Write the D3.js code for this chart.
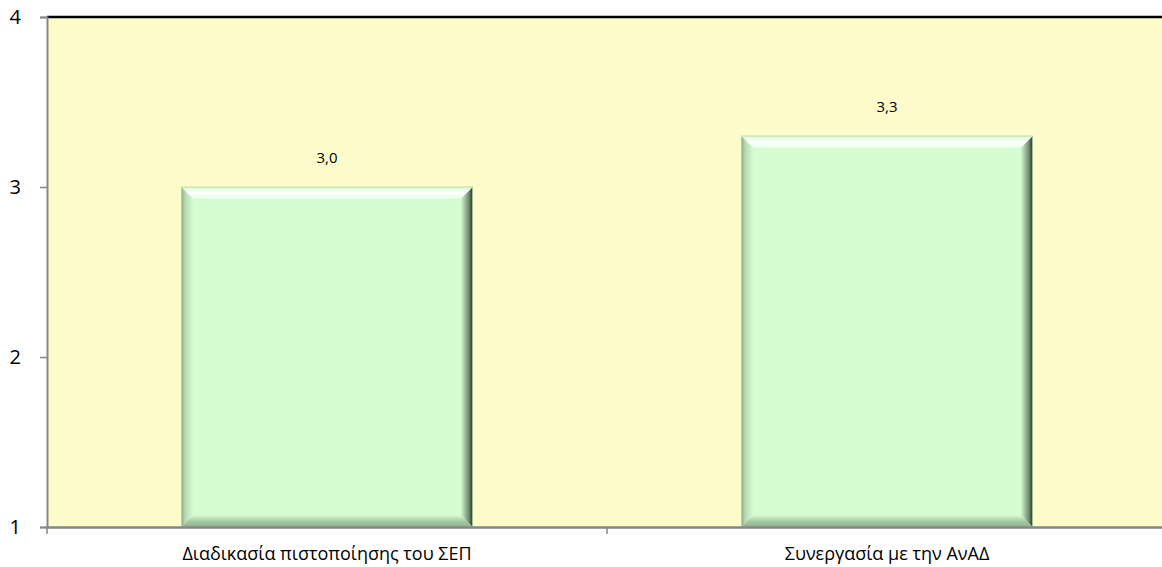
<!DOCTYPE html>
<html>
<head>
<meta charset="utf-8">
<script src="https://cdn.jsdelivr.net/npm/d3@7"></script>
<style>
  body { margin: 0; background: #fff; }
  text { font-family: "Open Sans", "Noto Sans", sans-serif; }
</style>
</head>
<body>
<div id="chart"></div>
<script>

// chart values
const categories = ['Διαδικασία πιστοποίησης του ΣΕΠ', 'Συνεργασία με την ΑνΑΔ'];
const values = [3.0, 3.3];
const yTicks = [1, 2, 3, 4];

const W = 1162, H = 567;
const margin = {top: 17, right: -5, bottom: 40, left: 47};
const width = W - margin.left - margin.right;
const height = H - margin.top - margin.bottom;

const svg = d3.select('#chart')
    .append('svg')
    .attr('width', W)
    .attr('height', H);

// gradients for the bevel look
const defs = svg.append('defs');
const grad = (id, x1, y1, x2, y2, stops) => {
    const g = defs.append('linearGradient').attr('id', id)
        .attr('x1', x1).attr('y1', y1).attr('x2', x2).attr('y2', y2);
    stops.forEach(s => g.append('stop').attr('offset', s[0]).attr('stop-color', s[1]));
};
grad('bevLeft', 0, 0, 1, 0, [[0, '#8fae8c'], [0.35, '#b9dcb5'], [1, '#d6fcd2']]);
grad('bevRight', 1, 0, 0, 0, [[0, '#26332a'], [0.3, '#6f8a6c'], [1, '#d6fcd2']]);
grad('bevTop', 0, 0, 0, 1, [[0, '#d6fcd2'], [0.5, '#ffffff'], [1, '#e6fde3']]);
grad('bevBottom', 0, 1, 0, 0, [[0, '#8fb08c'], [0.5, '#a8cca5'], [1, '#d6fcd2']]);

const g = svg.append('g')
    .attr('transform', `translate(${margin.left}, ${margin.top})`);

const x = d3.scaleBand()
    .domain(categories)
    .range([0, width])
    .paddingInner(0.48)
    .paddingOuter(0.24);

const y = d3.scaleLinear()
    .domain([1, 4])
    .range([height, 0]);

// plot background
g.append('rect')
    .attr('width', width)
    .attr('height', height)
    .attr('fill', '#fffccc');

// bars
const bev = 12;
const bars = g.selectAll('.bar')
    .data(categories.map((c, i) => ({cat: c, val: values[i]})))
    .enter()
    .append('g')
    .attr('class', 'bar');

bars.each(function (d) {
    const b = d3.select(this);
    const x0 = x(d.cat), x1 = x0 + x.bandwidth();
    const y0 = y(d.val), y1 = y(1);
    b.append('rect')
        .attr('x', x0).attr('y', y0)
        .attr('width', x1 - x0).attr('height', y1 - y0)
        .attr('fill', '#d6fcd2');
    const poly = (pts, fill) => b.append('polygon')
        .attr('points', pts.map(p => p.join(',')).join(' '))
        .attr('fill', fill);
    poly([[x0, y0], [x0 + bev, y0 + bev], [x0 + bev, y1 - bev], [x0, y1]], 'url(#bevLeft)');
    poly([[x1, y0], [x1 - bev, y0 + bev], [x1 - bev, y1 - bev], [x1, y1]], 'url(#bevRight)');
    poly([[x0, y0], [x1, y0], [x1 - bev, y0 + bev], [x0 + bev, y0 + bev]], 'url(#bevTop)');
    poly([[x0, y1], [x1, y1], [x1 - bev, y1 - bev], [x0 + bev, y1 - bev]], 'url(#bevBottom)');
    b.append('rect')
        .attr('x', x0).attr('y', y0)
        .attr('width', x1 - x0).attr('height', y1 - y0)
        .attr('fill', 'none')
        .attr('stroke', '#b5cfa8')
        .attr('stroke-width', 0.8);
});

// data labels
bars.append('text')
    .attr('x', d => x(d.cat) + x.bandwidth() / 2)
    .attr('y', d => y(d.val) - 24)
    .attr('text-anchor', 'middle')
    .attr('font-size', 15)
    .attr('fill', '#000')
    .text(d => d3.format('.1f')(d.val).replace('.', ','));

// top border
g.append('line')
    .attr('x1', 0).attr('x2', width)
    .attr('y1', 0).attr('y2', 0)
    .attr('stroke', '#000')
    .attr('stroke-width', 2.5);

// y axis
const yAxis = g.append('g')
    .call(d3.axisLeft(y).tickValues(yTicks).tickFormat(d3.format('d')).tickSize(7).tickPadding(19));
yAxis.select('.domain').attr('stroke', '#868686').attr('stroke-width', 2);
yAxis.selectAll('.tick line').attr('stroke', '#868686').attr('stroke-width', 1.5);
yAxis.selectAll('.tick text').attr('font-size', 20).attr('fill', '#000');

// x axis
const xAxis = g.append('g')
    .attr('transform', `translate(0, ${height})`)
    .call(d3.axisBottom(x).tickSize(0));
xAxis.select('.domain').attr('stroke', '#868686').attr('stroke-width', 2.5);
xAxis.selectAll('.tick text')
    .attr('y', 33)
    .attr('dy', 0)
    .attr('font-size', 18)
    .attr('fill', '#000');

// category separators
const seps = [0, width / 2];
g.selectAll('.sep')
    .data(seps)
    .enter()
    .append('line')
    .attr('x1', d => d).attr('x2', d => d)
    .attr('y1', height).attr('y2', height + 7)
    .attr('stroke', '#868686')
    .attr('stroke-width', 1.5);

</script>
</body>
</html>
